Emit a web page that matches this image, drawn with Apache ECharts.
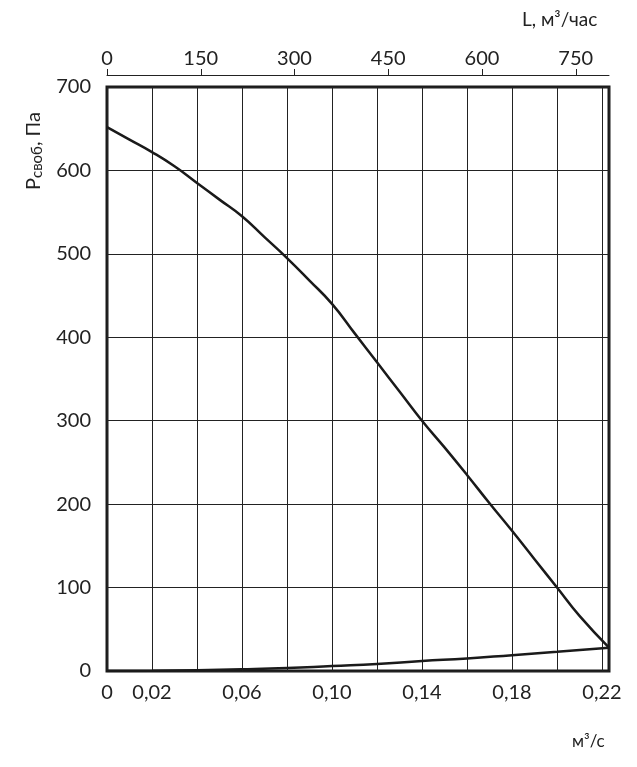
<!DOCTYPE html>
<html>
<head>
<meta charset="UTF-8">
<script src="https://cdn.jsdelivr.net/npm/echarts@6/dist/echarts.min.js"></script>
<style>body{margin:0}#c{width:637px;height:767px}</style>
</head>
<body>
<div id="c"></div>
<script>
// характеристика вентилятора, м3/с -> Па
var fanCurve = [[0,652],[0.01,637],[0.02,622],[0.03,605],[0.04,585],[0.05,565],[0.06,545],[0.07,520],[0.08,495],[0.09,468],[0.10,440],[0.11,405],[0.12,370],[0.13,335],[0.14,300],[0.15,268],[0.16,235],[0.17,201],[0.18,168],[0.19,134],[0.20,100],[0.21,66],[0.2231,28]];
// характеристика сети
var netCurve = [[0,0],[0.02,0.3],[0.04,1],[0.06,2],[0.08,3.5],[0.10,6],[0.12,8.5],[0.14,12],[0.16,15],[0.18,19],[0.20,23],[0.2231,28]];
var xMax = 0.2231;
var font = 'Lato, "Open Sans", sans-serif';

var chart = echarts.init(document.getElementById('c'));
chart.setOption({
  animation: false,
  textStyle: {fontFamily: font},
  grid: {left: 107, right: 28, top: 87, bottom: 96, containLabel: false, outerBoundsMode: 'none',
    show: true, borderColor: '#1a1a1a', borderWidth: 3},
  graphic: [
    {type: 'text', left: 522, top: 10, style: {text: 'L, м³/час', fontSize: 19, fill: '#222', fontFamily: font}},
    {type: 'text', left: 572, top: 733, style: {text: 'м³/с', fontSize: 17, fill: '#222', fontFamily: font}},
    {type: 'text', x: 22, y: 190, rotation: Math.PI / 2,
      style: {text: '{a|P}{b|своб}{a|, Па}', fontFamily: font,
        rich: {a: {fontSize: 20, fill: '#222', fontFamily: font}, b: {fontSize: 15, fill: '#222', fontFamily: font, padding: [8, 0, 0, 0]}}}}
  ],
  xAxis: [{
    type: 'value', position: 'bottom', min: 0, max: xMax, interval: 0.02,
    axisLine: {show: false}, axisTick: {show: false},
    splitLine: {lineStyle: {color: '#222', width: 1}},
    axisLabel: {
      color: '#222', fontSize: 20, margin: 12, showMaxLabel: false,
      formatter: function (v) {
        var i = Math.round(v / 0.02);
        if (i === 0) return '0';
        return i % 2 === 1 ? v.toFixed(2).replace('.', ',') : '';
      }
    }
  }, {
    type: 'value', position: 'top', min: 0, max: xMax * 3600, interval: 150,
    axisLine: {show: true, onZero: false, lineStyle: {color: '#222', width: 1}},
    axisTick: {show: true, length: 6, lineStyle: {color: '#222'}},
    splitLine: {show: false}, offset: 12,
    axisLabel: {color: '#222', fontSize: 20, margin: 6, showMaxLabel: false}
  }],
  yAxis: {
    type: 'value', min: 0, max: 700, interval: 100,
    axisLine: {show: false}, axisTick: {show: false},
    splitLine: {lineStyle: {color: '#222', width: 1}},
    axisLabel: {color: '#222', fontSize: 20, margin: 16}
  },
  series: [
    {type: 'line', data: fanCurve, smooth: true, symbol: 'none', lineStyle: {color: '#1a1a1a', width: 2.5}},
    {type: 'line', data: netCurve, smooth: true, symbol: 'none', lineStyle: {color: '#1a1a1a', width: 2.5}}
  ]
});
</script>
</body>
</html>
